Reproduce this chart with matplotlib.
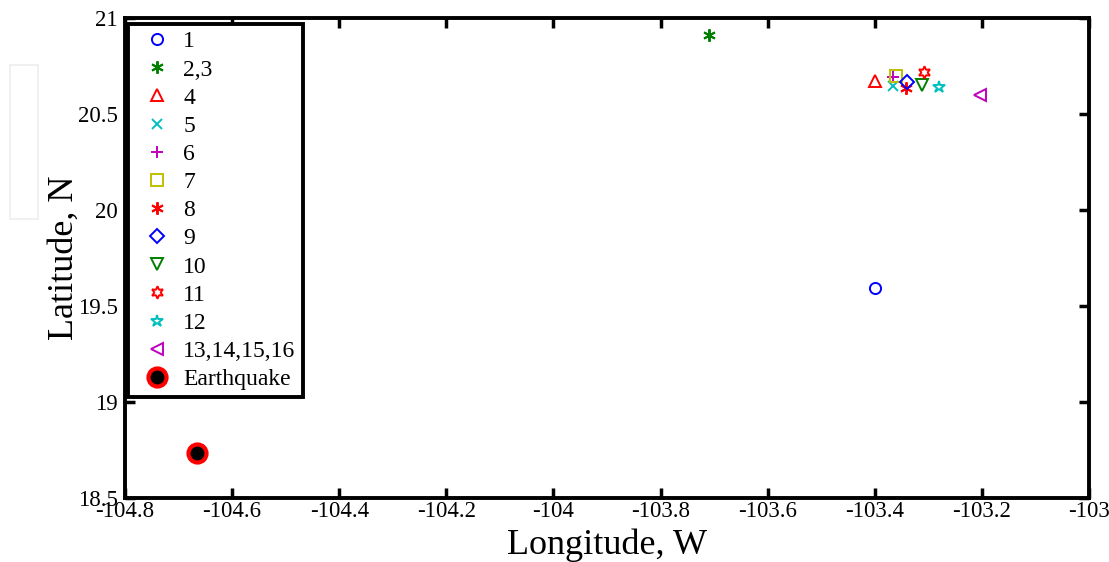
import numpy as np
import matplotlib
matplotlib.use("Agg")
import matplotlib.pyplot as plt
from matplotlib.patches import Rectangle

# station data (longitude W, latitude N)
labels = ["1", "2,3", "4", "5", "6", "7", "8", "9", "10", "11", "12", "13,14,15,16"]
lons = [-103.40, -103.71, -103.40, -103.366, -103.366, -103.36, -103.342, -103.34,
        -103.312, -103.308, -103.28, -103.204]
lats = [19.595, 20.911, 20.672, 20.646, 20.693, 20.698, 20.635, 20.667,
        20.651, 20.719, 20.641, 20.599]
eq_lon = -104.666
eq_lat = 18.735

# matlab style colours / markers
b = (0, 0, 1)
g = (0, 0.5, 0)
r = (1, 0, 0)
c = (0, 0.75, 0.75)
m = (0.75, 0, 0.75)
y = (0.75, 0.75, 0)
colors = [b, g, r, c, m, y, r, b, g, r, c, m]
markers = ["o", (6, 2, 0), "^", "x", "+", "s", (6, 2, 0), "D", "v", (6, 1, 0), "*", "<"]
sizes = [8, 9, 8, 7, 9, 8, 9, 7, 8, 9, 9, 8]

plt.rcParams['font.family'] = ['Liberation Serif', 'DejaVu Serif']

fig = plt.figure(figsize=(11.09, 5.62), dpi=100)
ax = fig.add_axes([0.1127, 0.1139, 0.8693, 0.854])

for i in range(len(labels)):
    ax.plot(lons[i], lats[i], linestyle="none", marker=markers[i], color=colors[i],
            markerfacecolor="none", markersize=sizes[i], markeredgewidth=1.4,
            label=labels[i])
ax.plot(eq_lon, eq_lat, linestyle="none", marker="o", markersize=13,
        markerfacecolor="k", markeredgecolor="r", markeredgewidth=3, label="Earthquake")

ax.set_xlim(-104.8, -103)
ax.set_ylim(18.5, 21)
ax.set_xticks(np.arange(-104.8, -102.99, 0.2))
ax.set_xticklabels(["-104.8", "-104.6", "-104.4", "-104.2", "-104", "-103.8",
                    "-103.6", "-103.4", "-103.2", "-103"])
ax.set_yticks([18.5, 19, 19.5, 20, 20.5, 21])
ax.set_yticklabels(["18.5", "19", "19.5", "20", "20.5", "21"])
ax.tick_params(direction="in", top=True, right=True, length=7, width=2.5,
               labelsize=16.5)
ax.tick_params(axis="x", pad=2)
ax.tick_params(axis="y", pad=5)
for s in ax.spines.values():
    s.set_linewidth(2.8)

ax.set_xlabel("Longitude, W", fontsize=26, labelpad=5)
ax.set_ylabel("Latitude, N", fontsize=26, labelpad=-2)

leg = ax.legend(loc="upper left", bbox_to_anchor=(0.003, 0.988), fontsize=17,
                labelspacing=0.28, handlelength=1.85, handletextpad=0.2,
                borderaxespad=0, fancybox=False, framealpha=1, borderpad=0.3)
leg.get_frame().set_edgecolor("k")
leg.get_frame().set_linewidth(2.8)

# faint box on the left edge of the original image
fig.patches.append(Rectangle((0.009, 0.61), 0.025, 0.275, transform=fig.transFigure,
                             fill=False, edgecolor="#eeeeee", linewidth=1.2))

fig.savefig("out.png", dpi=100)
